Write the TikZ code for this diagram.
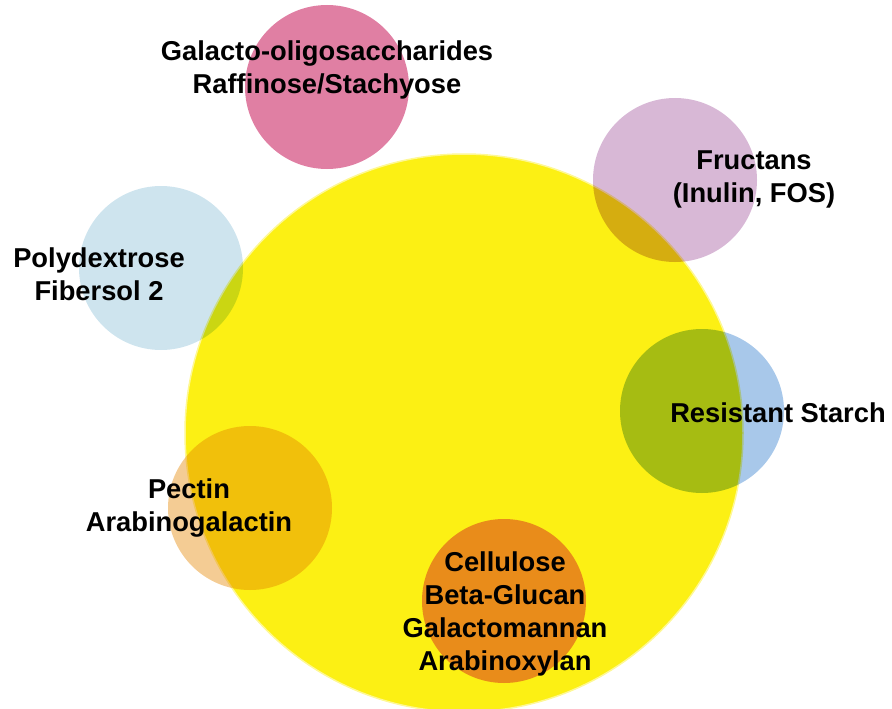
\documentclass[tikz,border=0pt]{standalone}
\usepackage{fontspec}
\setmainfont{Liberation Sans}
\usepackage{xcolor}
\definecolor{gutYellow}{RGB}{252,240,20}
\definecolor{gosPink}{RGB}{224,127,163}
\definecolor{fructLilac}{RGB}{216,184,214}
\definecolor{polyBlue}{RGB}{206,228,238}
\definecolor{starchBlue}{RGB}{168,200,234}
\definecolor{pectinTan}{RGB}{244,204,148}
\definecolor{celluOrange}{RGB}{233,140,26}
\tikzset{
  blob/.style={circle, inner sep=0pt, minimum size=164pt, blend mode=multiply},
  lbl/.style={align=center, text=black, font=\fontsize{27.3}{33}\selectfont\bfseries}
}

\begin{document}
\begin{tikzpicture}[x=1pt,y=-1pt]
  \useasboundingbox (0,0) rectangle (892,709);
  % Draw the big yellow circle
  \node[circle, inner sep=0pt, minimum size=558pt, fill=gutYellow, draw=gutYellow!45, line width=1.5pt] (gut) at (464,433) {};
  % Draw the small circles on top of it
  \node[blob, fill=gosPink] (gos) at (327,87) {};
  \node[blob, fill=fructLilac] (fructans) at (675,180) {};
  \node[blob, fill=polyBlue] (poly) at (161,268) {};
  \node[blob, fill=starchBlue] (starch) at (702,411) {};
  \node[blob, fill=pectinTan] (pectin) at (250,508) {};
  \node[blob, fill=celluOrange, blend mode=normal] (cellulose) at (504,601) {};
  % Label the circles
  \node[lbl] (gosText) at (327,70) {Galacto-oligosaccharides\\Raffinose/Stachyose};
  \node[lbl] (fructansText) at (754,179) {Fructans\\(Inulin, FOS)};
  \node[lbl] (polyText) at (99,274) {Polydextrose\\Fibersol 2};
  \node[lbl] (starchText) at (778,413) {Resistant Starch};
  \node[lbl] (pectinText) at (189,508) {Pectin\\Arabinogalactin};
  \node[lbl] (celluloseText) at (505,614) {Cellulose\\Beta-Glucan\\Galactomannan\\Arabinoxylan};
\end{tikzpicture}
\end{document}
